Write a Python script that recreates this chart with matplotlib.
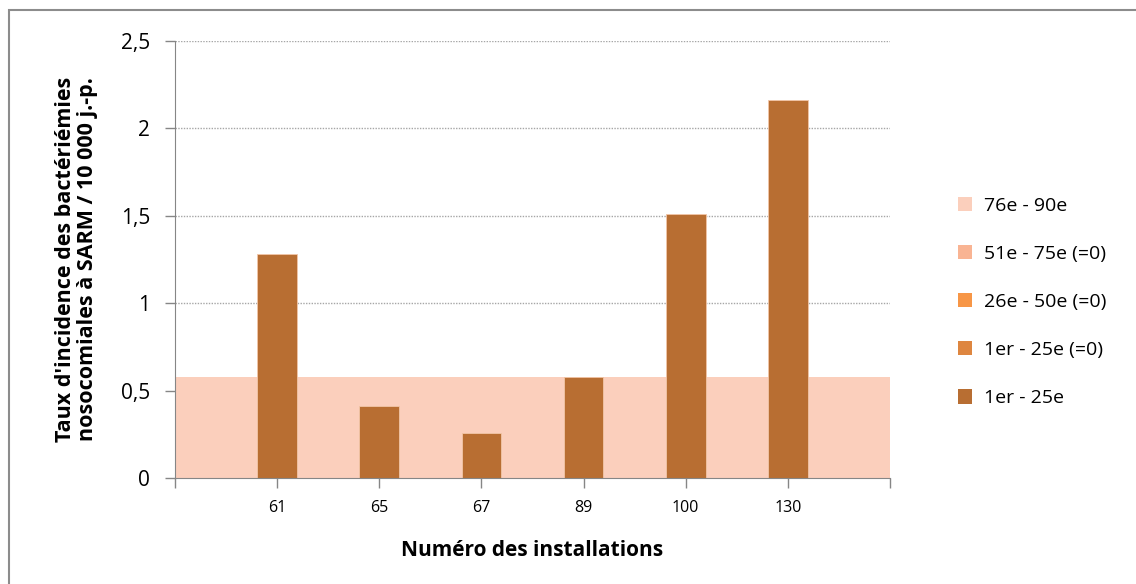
import matplotlib
matplotlib.use("Agg")
import matplotlib.pyplot as plt
from matplotlib.patches import Patch, Rectangle

# data
installations = ["61", "65", "67", "89", "100", "130"]
taux = [1.28, 0.41, 0.26, 0.58, 1.51, 2.16]
bande_76_90 = 0.58  # band for 76e - 90e percentile

legend_labels = ["76e - 90e", "51e - 75e (=0)", "26e - 50e (=0)", "1er - 25e (=0)", "1er - 25e"]
legend_colors = ["#FBCFBC", "#F9B493", "#F79646", "#DE8640", "#B86E32"]

plt.rcParams['font.family'] = ['Open Sans', 'DejaVu Sans']

fig = plt.figure(figsize=(11.36, 5.84), dpi=100)
W, H = 1136, 584
ax = fig.add_axes([175 / W, (H - 478) / H, 715 / W, 437 / H])

# positions: blank slot at 0 and 7, categories at 1..6
n = len(installations)
xpos = list(range(1, n + 1))
ax.fill_between([0, n + 1], [bande_76_90, bande_76_90], 0, color=legend_colors[0], zorder=2, lw=0)
ax.bar(xpos, taux, width=0.39, color=legend_colors[4], edgecolor="#F2C6A8", linewidth=0.6, zorder=3)

ax.set_xlim(0, n + 1)
ax.set_ylim(0, 2.5)
ax.set_xticks(range(0, n + 2))
ax.set_xticklabels([""] + installations + [""], fontsize=11.5)
ax.set_yticks([0, 0.5, 1, 1.5, 2, 2.5])
ax.set_yticklabels(["0", "0,5", "1", "1,5", "2", "2,5"], fontsize=15)
ax.yaxis.grid(True, linestyle=(0, (1, 1)), color="#A6A6A6", linewidth=1, zorder=1)
ax.set_axisbelow(True)
for s in ["top", "right"]:
    ax.spines[s].set_visible(False)
for s in ["left", "bottom"]:
    ax.spines[s].set_color("#868686")
    ax.spines[s].set_zorder(4)
ax.tick_params(axis="both", direction="out", length=7, color="#868686", width=1)
ax.tick_params(axis="x", pad=9)
ax.tick_params(axis="y", pad=11)

ax.set_xlabel("Numéro des installations", fontsize=15, fontweight="bold", labelpad=17)
ax.set_ylabel("Taux d'incidence des bactériémies\nnosocomiales à SARM / 10 000 j.-p.",
              fontsize=15.5, fontweight="bold", labelpad=16, linespacing=1.1)

handles = [Patch(facecolor=c, edgecolor="none") for c in legend_colors]
fig.legend(handles, legend_labels, loc="center left", bbox_to_anchor=(940 / W, 1 - 302 / H),
           frameon=False, fontsize=14, handlelength=0.75, handleheight=0.75,
           labelspacing=1.55, handletextpad=0.6)

# outer chart frame (right and bottom edges fall outside the picture)
fig.patches.append(Rectangle((9 / W, -0.1), 1.2, 0.1 + (H - 10) / H, transform=fig.transFigure,
                             fill=False, edgecolor="#8C8C8C", linewidth=1.5))

fig.savefig("out.png", dpi=100)
